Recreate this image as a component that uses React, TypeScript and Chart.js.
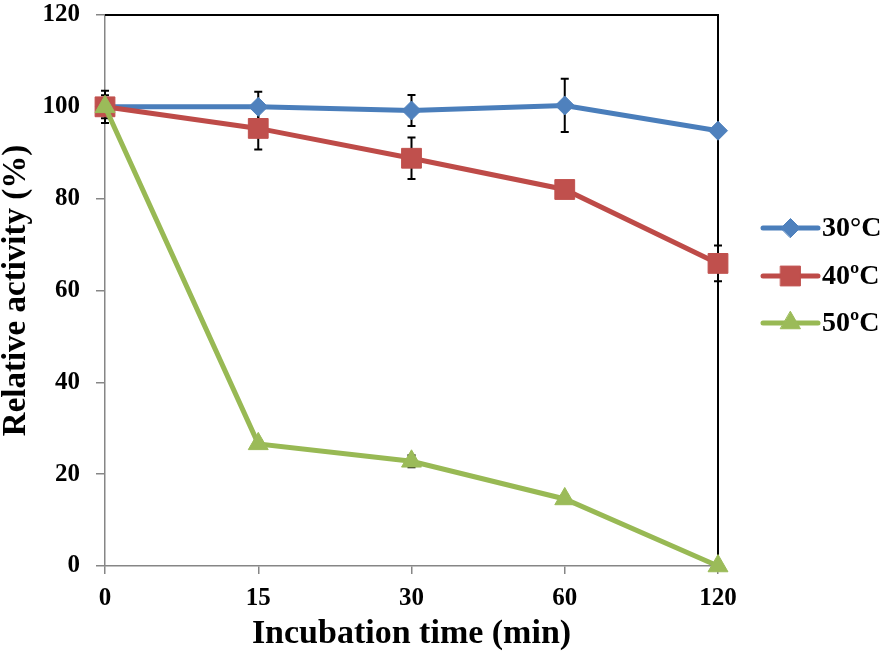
import React, { useEffect, useRef } from "react";
import { Chart, registerables } from "chart.js";
import { drawPoint } from "chart.js/helpers";

Chart.register(...registerables);

const categories = ["0", "15", "30", "60", "120"];
const seriesLabels = ["30°C", "40ºC", "50ºC"];
const values30 = [100, 100, 99.2, 100.3, 94.8];
const values40 = [100, 95.3, 88.8, 82.0, 65.9];
const values50 = [100, 26.6, 22.8, 14.6, 0];
const errors30 = [3.5, 3.3, 3.4, 5.8, 0];
const errors40 = [2.5, 4.6, 4.5, 0.8, 3.9];
const errors50 = [0.8, 0.8, 1.3, 0.8, 0];
const yMin = 0;
const yMax = 120;
const yStep = 20;
const xTitle = "Incubation time (min)";
const yTitle = "Relative activity (%)";

const FONT = "'Liberation Serif', 'Times New Roman', serif";
const AXIS_GRAY = "#868686";

const lineColors = ["#4A7EBB", "#BE4B48", "#98B954"];
const markerColors = ["#4F81BD", "#C0504D", "#9BBB59"];
const markerStyles = ["rectRot", "rect", "triangle"];
const markerRadii = [9.5, 14, 11.5];

const errorBarPlugin = {
  id: "errorBars",
  beforeDatasetsDraw(chart: any) {
    const { ctx, chartArea } = chart;
    ctx.save();
    ctx.strokeStyle = "#000";
    ctx.lineWidth = 2;
    ctx.beginPath();
    ctx.moveTo(chartArea.left, chartArea.top);
    ctx.lineTo(chartArea.right, chartArea.top);
    ctx.lineTo(chartArea.right, chartArea.bottom);
    ctx.stroke();
    ctx.restore();

    const yScale = chart.scales.y;
    const errs = [errors30, errors40, errors50];
    ctx.save();
    ctx.strokeStyle = "#000";
    ctx.lineWidth = 2;
    chart.data.datasets.forEach((ds: any, i: number) => {
      const meta = chart.getDatasetMeta(i);
      meta.data.forEach((pt: any, j: number) => {
        const v = ds.data[j];
        const e = errs[i][j];
        if (!e) return;
        const x = pt.x;
        const yt = yScale.getPixelForValue(v + e);
        const yb = yScale.getPixelForValue(v - e);
        ctx.beginPath();
        ctx.moveTo(x, yt);
        ctx.lineTo(x, yb);
        ctx.moveTo(x - 4, yt);
        ctx.lineTo(x + 4, yt);
        ctx.moveTo(x - 4, yb);
        ctx.lineTo(x + 4, yb);
        ctx.stroke();
      });
    });
    ctx.restore();
  },
};

const legendPlugin = {
  id: "customLegend",
  afterDraw(chart: any) {
    const { ctx, chartArea } = chart;
    const x0 = chartArea.right + 45;
    const lineLen = 55;
    const rowYs = [228, 276, 323];
    ctx.save();
    chart.data.datasets.forEach((ds: any, i: number) => {
      const y = rowYs[i];
      ctx.strokeStyle = ds.borderColor;
      ctx.lineWidth = 5;
      ctx.lineCap = "round";
      ctx.beginPath();
      ctx.moveTo(x0, y);
      ctx.lineTo(x0 + lineLen, y);
      ctx.stroke();
      ctx.fillStyle = ds.pointBackgroundColor;
      ctx.strokeStyle = ds.pointBorderColor;
      ctx.lineWidth = 1;
      drawPoint(
        ctx,
        { pointStyle: ds.pointStyle, radius: ds.pointRadius, rotation: 0, borderWidth: 1 } as any,
        x0 + lineLen / 2,
        y
      );
      ctx.fillStyle = "#000";
      ctx.font = `bold 28px ${FONT}`;
      ctx.textAlign = "left";
      ctx.textBaseline = "middle";
      ctx.fillText(ds.label, x0 + lineLen + 4, y + 1);
    });
    ctx.restore();
  },
};

export default function App() {
  const canvasRef = useRef<HTMLCanvasElement | null>(null);

  useEffect(() => {
    if (!canvasRef.current) return;
    const seriesValues = [values30, values40, values50];
    const chart = new Chart(canvasRef.current, {
      type: "line",
      data: {
        labels: categories,
        datasets: seriesLabels.map((label, i) => ({
          label,
          data: seriesValues[i],
          order: seriesLabels.length - i,
          borderColor: lineColors[i],
          backgroundColor: markerColors[i],
          borderWidth: 5,
          pointStyle: markerStyles[i] as any,
          pointRadius: markerRadii[i],
          pointHoverRadius: markerRadii[i],
          pointBackgroundColor: markerColors[i],
          pointBorderColor: markerColors[i],
          pointBorderWidth: 1,
          tension: 0,
          fill: false,
          clip: false as any,
        })),
      },
      options: {
        animation: false,
        responsive: false,
        events: [],
        layout: { padding: { top: 12, right: 176, left: 0, bottom: 0 } },
        plugins: {
          legend: { display: false },
          tooltip: { enabled: false },
        },
        scales: {
          x: {
            type: "category",
            offset: false,
            afterFit(scale: any) {
              scale.height = 95;
            },
            grid: {
              display: true,
              drawOnChartArea: false,
              drawTicks: true,
              tickLength: 8,
              color: AXIS_GRAY,
              lineWidth: 1.5,
            },
            border: { display: true, color: AXIS_GRAY, width: 1.5 },
            ticks: {
              color: "#000",
              padding: 10,
              font: { family: FONT, size: 25, weight: "bold" },
              maxRotation: 0,
            },
            title: {
              display: true,
              text: xTitle,
              color: "#000",
              font: { family: FONT, size: 34, weight: "bold" },
              padding: { top: 0, bottom: 6 },
            },
          },
          y: {
            min: yMin,
            max: yMax,
            afterFit(scale: any) {
              scale.width = 105;
              scale.paddingTop = 0;
              scale.paddingBottom = 0;
            },
            grid: {
              display: true,
              drawOnChartArea: false,
              drawTicks: true,
              tickLength: 9,
              color: AXIS_GRAY,
              lineWidth: 1.5,
            },
            border: { display: true, color: AXIS_GRAY, width: 1.5 },
            ticks: {
              stepSize: yStep,
              color: "#000",
              padding: 16,
              font: { family: FONT, size: 25, weight: "bold" },
            },
            title: {
              display: true,
              text: yTitle,
              color: "#000",
              font: { family: FONT, size: 33, weight: "bold" },
              padding: { top: -3, bottom: 0 },
            },
          },
        },
      },
      plugins: [errorBarPlugin, legendPlugin],
    });
    return () => chart.destroy();
  }, []);

  return (
    <div style={{ position: "fixed", left: 0, top: 0, width: 894, height: 661, background: "#fff" }}>
      <canvas ref={canvasRef} width={894} height={661} style={{ display: "block" }} />
    </div>
  );
}
